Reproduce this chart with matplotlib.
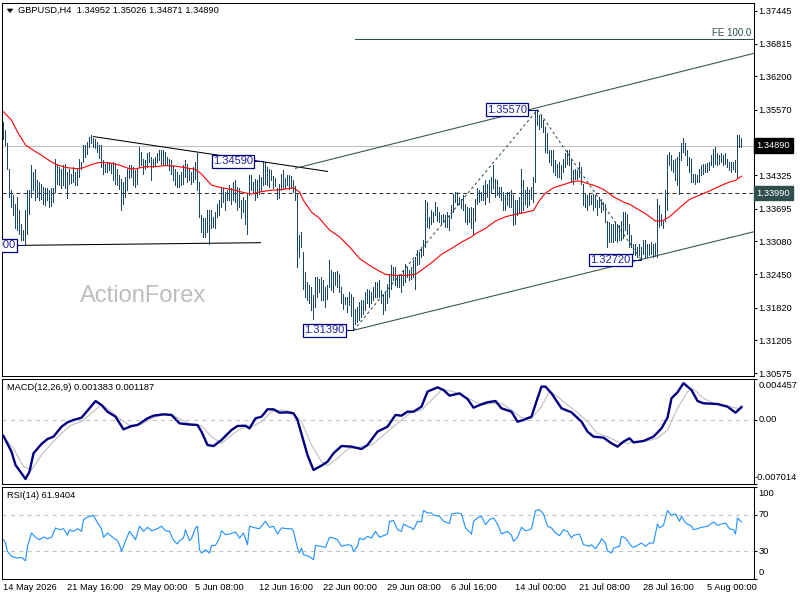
import matplotlib
matplotlib.use("Agg")
import matplotlib.pyplot as plt
import matplotlib.transforms as mtransforms
from matplotlib.patches import Polygon

plt.rcParams['font.family'] = ['Liberation Sans', 'DejaVu Sans']

# ---------------- data ----------------
symbol_header = "GBPUSD,H4  1.34952 1.35026 1.34871 1.34890"
macd_header = "MACD(12,26,9) 0.001383 0.001187"
rsi_header = "RSI(14) 61.9404"
watermark = "ActionForex"

bar_high = [
    1.3534, 1.3519, 1.3493, 1.3445, 1.3404, 1.3395, 1.3379, 1.3392, 1.3366, 1.3341,
    1.3329, 1.3366, 1.3404, 1.3404, 1.3452, 1.3439, 1.3445, 1.3423, 1.3420, 1.3417,
    1.3411, 1.3408, 1.3408, 1.3404, 1.3409, 1.3408, 1.3463, 1.3455, 1.3449, 1.3445,
    1.3452, 1.3455, 1.3439, 1.3445, 1.3435, 1.3449, 1.3439, 1.3444, 1.3463, 1.3458,
    1.3490, 1.3490, 1.3496, 1.3505, 1.3509, 1.3504, 1.3502, 1.3496, 1.3490, 1.3490,
    1.3461, 1.3455, 1.3458, 1.3457, 1.3455, 1.3458, 1.3456, 1.3445, 1.3433, 1.3426,
    1.3420, 1.3430, 1.3445, 1.3452, 1.3452, 1.3449, 1.3442, 1.3445, 1.3487, 1.3477,
    1.3464, 1.3461, 1.3474, 1.3477, 1.3468, 1.3464, 1.3468, 1.3474, 1.3481, 1.3480,
    1.3481, 1.3477, 1.3468, 1.3464, 1.3461, 1.3452, 1.3445, 1.3439, 1.3433, 1.3439,
    1.3452, 1.3461, 1.3455, 1.3445, 1.3439, 1.3449, 1.3458, 1.3474, 1.3420, 1.3357,
    1.3351, 1.3351, 1.3366, 1.3366, 1.3366, 1.3354, 1.3363, 1.3379, 1.3385, 1.3411,
    1.3408, 1.3401, 1.3404, 1.3414, 1.3408, 1.3420, 1.3423, 1.3411, 1.3408, 1.3385,
    1.3392, 1.3385, 1.3398, 1.3433, 1.3433, 1.3420, 1.3426, 1.3423, 1.3433, 1.3430,
    1.3459, 1.3458, 1.3449, 1.3445, 1.3442, 1.3431, 1.3428, 1.3408, 1.3417, 1.3435,
    1.3442, 1.3428, 1.3433, 1.3433, 1.3431, 1.3423, 1.3412, 1.3398, 1.3319, 1.3325,
    1.3287, 1.3250, 1.3231, 1.3224, 1.3221, 1.3205, 1.3240, 1.3240, 1.3237, 1.3240,
    1.3234, 1.3221, 1.3224, 1.3272, 1.3253, 1.3250, 1.3250, 1.3251, 1.3246, 1.3221,
    1.3208, 1.3202, 1.3202, 1.3212, 1.3208, 1.3202, 1.3180, 1.3183, 1.3193, 1.3196,
    1.3196, 1.3212, 1.3218, 1.3215, 1.3212, 1.3221, 1.3231, 1.3231, 1.3234, 1.3215,
    1.3208, 1.3212, 1.3227, 1.3246, 1.3262, 1.3259, 1.3259, 1.3243, 1.3243, 1.3246,
    1.3253, 1.3265, 1.3259, 1.3253, 1.3259, 1.3272, 1.3278, 1.3291, 1.3287, 1.3297,
    1.3310, 1.3385, 1.3382, 1.3354, 1.3366, 1.3363, 1.3382, 1.3373, 1.3363, 1.3357,
    1.3360, 1.3357, 1.3363, 1.3357, 1.3376, 1.3398, 1.3401, 1.3401, 1.3392, 1.3388,
    1.3395, 1.3379, 1.3373, 1.3370, 1.3373, 1.3370, 1.3388, 1.3408, 1.3404, 1.3401,
    1.3414, 1.3423, 1.3417, 1.3423, 1.3430, 1.3452, 1.3426, 1.3423, 1.3411, 1.3411,
    1.3401, 1.3395, 1.3401, 1.3401, 1.3404, 1.3395, 1.3385, 1.3385, 1.3392, 1.3444,
    1.3423, 1.3404, 1.3411, 1.3404, 1.3411, 1.3430, 1.3556, 1.3557, 1.3547, 1.3547,
    1.3537, 1.3524, 1.3512, 1.3480, 1.3480, 1.3480, 1.3461, 1.3455, 1.3458, 1.3452,
    1.3464, 1.3474, 1.3480, 1.3480, 1.3464, 1.3442, 1.3445, 1.3442, 1.3458, 1.3449,
    1.3417, 1.3398, 1.3395, 1.3398, 1.3395, 1.3398, 1.3395, 1.3385, 1.3392, 1.3388,
    1.3382, 1.3379, 1.3347, 1.3344, 1.3341, 1.3341, 1.3344, 1.3341, 1.3338, 1.3347,
    1.3363, 1.3363, 1.3360, 1.3341, 1.3319, 1.3303, 1.3303, 1.3297, 1.3303, 1.3297,
    1.3310, 1.3310, 1.3303, 1.3303, 1.3306, 1.3303, 1.3304, 1.3388, 1.3376, 1.3360,
    1.3347, 1.3404, 1.3471, 1.3477, 1.3471, 1.3461, 1.3464, 1.3468, 1.3477, 1.3493,
    1.3504, 1.3493, 1.3480, 1.3468, 1.3464, 1.3436, 1.3435, 1.3433, 1.3445, 1.3452,
    1.3455, 1.3455, 1.3456, 1.3458, 1.3471, 1.3483, 1.3487, 1.3474, 1.3471, 1.3474,
    1.3471, 1.3474, 1.3464, 1.3458, 1.3458, 1.3458, 1.3461, 1.3509, 1.3509, 1.3503,
]
bar_low = [
    1.3502, 1.3490, 1.3445, 1.3392, 1.3373, 1.3357, 1.3332, 1.3329, 1.3322, 1.3310,
    1.3310, 1.3300, 1.3322, 1.3360, 1.3392, 1.3404, 1.3385, 1.3392, 1.3385, 1.3388,
    1.3378, 1.3376, 1.3385, 1.3373, 1.3374, 1.3382, 1.3401, 1.3417, 1.3414, 1.3409,
    1.3414, 1.3408, 1.3390, 1.3417, 1.3418, 1.3420, 1.3414, 1.3414, 1.3430, 1.3445,
    1.3458, 1.3468, 1.3473, 1.3487, 1.3494, 1.3487, 1.3485, 1.3477, 1.3466, 1.3449,
    1.3435, 1.3439, 1.3439, 1.3442, 1.3437, 1.3423, 1.3417, 1.3414, 1.3406, 1.3366,
    1.3379, 1.3392, 1.3404, 1.3428, 1.3430, 1.3414, 1.3411, 1.3417, 1.3449, 1.3452,
    1.3436, 1.3445, 1.3449, 1.3458, 1.3423, 1.3449, 1.3452, 1.3458, 1.3461, 1.3455,
    1.3452, 1.3455, 1.3452, 1.3442, 1.3436, 1.3423, 1.3414, 1.3411, 1.3411, 1.3414,
    1.3417, 1.3430, 1.3420, 1.3423, 1.3417, 1.3420, 1.3426, 1.3404, 1.3354, 1.3325,
    1.3316, 1.3316, 1.3325, 1.3303, 1.3332, 1.3335, 1.3332, 1.3354, 1.3357, 1.3373,
    1.3382, 1.3366, 1.3385, 1.3385, 1.3379, 1.3385, 1.3382, 1.3366, 1.3373, 1.3351,
    1.3363, 1.3341, 1.3322, 1.3395, 1.3404, 1.3401, 1.3385, 1.3392, 1.3398, 1.3404,
    1.3414, 1.3417, 1.3414, 1.3411, 1.3423, 1.3409, 1.3412, 1.3388, 1.3390, 1.3404,
    1.3408, 1.3409, 1.3414, 1.3406, 1.3409, 1.3401, 1.3385, 1.3259, 1.3278, 1.3297,
    1.3218, 1.3202, 1.3196, 1.3190, 1.3177, 1.3161, 1.3183, 1.3202, 1.3212, 1.3196,
    1.3196, 1.3183, 1.3199, 1.3221, 1.3215, 1.3212, 1.3224, 1.3221, 1.3212, 1.3190,
    1.3180, 1.3188, 1.3174, 1.3186, 1.3167, 1.3139, 1.3151, 1.3155, 1.3158, 1.3164,
    1.3170, 1.3177, 1.3190, 1.3183, 1.3190, 1.3196, 1.3202, 1.3202, 1.3202, 1.3190,
    1.3170, 1.3177, 1.3190, 1.3202, 1.3218, 1.3234, 1.3224, 1.3221, 1.3221, 1.3212,
    1.3224, 1.3231, 1.3240, 1.3234, 1.3237, 1.3240, 1.3218, 1.3262, 1.3265, 1.3278,
    1.3281, 1.3297, 1.3335, 1.3332, 1.3341, 1.3344, 1.3357, 1.3347, 1.3344, 1.3341,
    1.3344, 1.3335, 1.3335, 1.3329, 1.3351, 1.3363, 1.3382, 1.3376, 1.3379, 1.3370,
    1.3366, 1.3344, 1.3341, 1.3344, 1.3332, 1.3319, 1.3347, 1.3379, 1.3382, 1.3385,
    1.3385, 1.3379, 1.3392, 1.3382, 1.3401, 1.3408, 1.3392, 1.3395, 1.3392, 1.3385,
    1.3366, 1.3366, 1.3376, 1.3373, 1.3373, 1.3338, 1.3341, 1.3357, 1.3363, 1.3363,
    1.3366, 1.3379, 1.3373, 1.3376, 1.3388, 1.3382, 1.3420, 1.3528, 1.3521, 1.3524,
    1.3515, 1.3477, 1.3474, 1.3458, 1.3452, 1.3439, 1.3433, 1.3430, 1.3430, 1.3426,
    1.3439, 1.3449, 1.3455, 1.3452, 1.3420, 1.3417, 1.3426, 1.3426, 1.3430, 1.3417,
    1.3376, 1.3373, 1.3366, 1.3376, 1.3379, 1.3366, 1.3373, 1.3357, 1.3373, 1.3363,
    1.3366, 1.3344, 1.3297, 1.3306, 1.3306, 1.3306, 1.3310, 1.3306, 1.3310, 1.3310,
    1.3313, 1.3329, 1.3322, 1.3297, 1.3297, 1.3284, 1.3281, 1.3278, 1.3281, 1.3272,
    1.3284, 1.3278, 1.3278, 1.3281, 1.3284, 1.3278, 1.3279, 1.3278, 1.3335, 1.3338,
    1.3332, 1.3347, 1.3366, 1.3452, 1.3442, 1.3439, 1.3423, 1.3414, 1.3398, 1.3461,
    1.3477, 1.3471, 1.3452, 1.3439, 1.3420, 1.3420, 1.3417, 1.3420, 1.3420, 1.3433,
    1.3436, 1.3439, 1.3439, 1.3442, 1.3452, 1.3449, 1.3455, 1.3452, 1.3455, 1.3458,
    1.3452, 1.3455, 1.3449, 1.3442, 1.3439, 1.3445, 1.3439, 1.3430, 1.3487, 1.3487,
]
bar_idx = list(range(len(bar_high)))

ma_idx = [0, 4, 7, 11, 15, 20, 24, 27, 32, 37, 40, 44, 48, 53, 58, 63, 66, 71, 76, 81,
          86, 91, 96, 99, 104, 109, 114, 119, 124, 128, 133, 140, 145, 148, 150, 154, 158, 163, 168, 173,
          178, 183, 188, 191, 196, 201, 206, 209, 214, 219, 224, 229, 234, 236, 241, 246, 251, 254, 258, 265,
          268, 271, 275, 280, 285, 288, 292, 295, 300, 305, 310, 313, 316, 321, 326, 329, 333, 338, 343, 348,
          353, 358, 363, 366, 369]
ma_val = [1.3553, 1.3537, 1.3515, 1.3490, 1.3480, 1.3468, 1.3458, 1.3452, 1.3447, 1.3445,
          1.3447, 1.3453, 1.3457, 1.3456, 1.3452, 1.3445, 1.3445, 1.3449, 1.3449, 1.3451,
          1.3450, 1.3447, 1.3444, 1.3435, 1.3414, 1.3409, 1.3406, 1.3401, 1.3397, 1.3401,
          1.3404, 1.3406, 1.3409, 1.3401, 1.3385, 1.3363, 1.3351, 1.3329, 1.3316, 1.3297,
          1.3275, 1.3262, 1.3251, 1.3245, 1.3243, 1.3243, 1.3245, 1.3253, 1.3267, 1.3283,
          1.3294, 1.3306, 1.3316, 1.3322, 1.3332, 1.3346, 1.3354, 1.3357, 1.3360, 1.3366,
          1.3385, 1.3399, 1.3409, 1.3415, 1.3421, 1.3422, 1.3417, 1.3414, 1.3406, 1.3392,
          1.3382, 1.3378, 1.3371, 1.3360, 1.3346, 1.3346, 1.3354, 1.3371, 1.3387, 1.3395,
          1.3403, 1.3412, 1.3420, 1.3423, 1.3431]

macd_idx = [0, 4, 6, 9, 11, 13, 15, 19, 22, 25, 29, 32, 35, 39, 43, 46, 49, 52, 56, 60,
            64, 67, 72, 75, 80, 84, 88, 92, 97, 99, 102, 105, 109, 114, 117, 121, 123, 126, 129, 132,
            135, 138, 142, 145, 147, 152, 155, 159, 162, 165, 169, 174, 179, 182, 187, 192, 196, 199, 202, 205,
            209, 212, 217, 220, 223, 228, 232, 235, 239, 242, 246, 249, 254, 257, 260, 264, 267, 269, 271, 274,
            279, 284, 289, 292, 295, 300, 304, 307, 310, 313, 315, 320, 325, 329, 332, 334, 337, 340, 344, 347,
            350, 357, 362, 366, 369]
macd_val = [-0.00180, -0.00352, -0.00498, -0.00590, -0.00652, -0.00571, -0.00370, -0.00268, -0.00213, -0.00187,
            -0.00078, -0.00030, -0.00004, 0.00021, 0.00124, 0.00204, 0.00160, 0.00087, 0.00032, -0.00107,
            -0.00070, -0.00059, 0.00014, 0.00043, 0.00058, 0.00051, -0.00041, -0.00052, -0.00059, -0.00132,
            -0.00279, -0.00290, -0.00224, -0.00114, -0.00070, -0.00067, -0.00096, 0.00014, 0.00032, 0.00113,
            0.00113, 0.00076, 0.00080, 0.00069, -0.00004, -0.00389, -0.00553, -0.00505, -0.00462, -0.00370,
            -0.00290, -0.00297, -0.00323, -0.00279, -0.00132, -0.00078, 0.00051, 0.00043, 0.00087, 0.00087,
            0.00142, 0.00307, 0.00354, 0.00325, 0.00263, 0.00288, 0.00226, 0.00131, 0.00168, 0.00190,
            0.00204, 0.00124, 0.00087, -0.00023, -0.00004, 0.00032, 0.00234, 0.00362, 0.00362, 0.00288,
            0.00124, 0.00080, -0.00023, -0.00132, -0.00187, -0.00198, -0.00261, -0.00297, -0.00242, -0.00205,
            -0.00250, -0.00235, -0.00187, -0.00096, 0.00021, 0.00234, 0.00299, 0.00400, 0.00325, 0.00204,
            0.00179, 0.00171, 0.00142, 0.00076, 0.00138]

sig_idx = [0, 5, 10, 14, 19, 24, 29, 34, 39, 44, 49, 54, 59, 64, 69, 74, 79, 84, 89, 94,
           99, 104, 109, 114, 119, 124, 129, 134, 139, 144, 149, 154, 159, 162, 167, 172, 179, 184, 189, 194,
           199, 204, 209, 214, 219, 224, 229, 234, 239, 244, 249, 254, 259, 264, 269, 273, 277, 282, 287, 292,
           297, 302, 307, 312, 317, 322, 327, 332, 337, 342, 345, 350, 355, 360, 365, 369]
sig_val = [-0.00187, -0.00315, -0.00516, -0.00553, -0.00389, -0.00261, -0.00151, -0.00059, -0.00023, 0.00069,
           0.00168, 0.00087, -0.00004, -0.00078, -0.00052, 0.00014, 0.00051, 0.00058, -0.00004, -0.00052,
           -0.00067, -0.00187, -0.00261, -0.00169, -0.00096, -0.00078, -0.00023, 0.00087, 0.00105, 0.00087,
           -0.00023, -0.00279, -0.00462, -0.00505, -0.00425, -0.00323, -0.00297, -0.00279, -0.00187, -0.00096,
           -0.00004, 0.00080, 0.00105, 0.00215, 0.00325, 0.00314, 0.00270, 0.00215, 0.00160, 0.00179,
           0.00179, 0.00105, 0.00021, 0.00014, 0.00142, 0.00314, 0.00252, 0.00160, 0.00080, -0.00023,
           -0.00151, -0.00187, -0.00242, -0.00261, -0.00242, -0.00235, -0.00205, -0.00114, 0.00124, 0.00307,
           0.00336, 0.00234, 0.00179, 0.00160, 0.00131, 0.00120]

rsi_idx = [0, 1, 2, 4, 7, 9, 11, 12, 14, 16, 18, 20, 22, 24, 26, 28, 30, 32, 33, 35,
           37, 39, 40, 42, 45, 47, 49, 50, 52, 54, 57, 58, 59, 61, 63, 64, 66, 68, 70, 72,
           74, 77, 79, 81, 83, 85, 87, 88, 90, 91, 93, 94, 96, 97, 98, 99, 101, 103, 104, 106,
           108, 109, 111, 113, 116, 118, 120, 122, 123, 126, 128, 131, 133, 135, 137, 139, 142, 144, 145, 147,
           148, 149, 150, 153, 155, 156, 159, 161, 163, 165, 167, 169, 172, 174, 175, 177, 178, 180, 182, 184,
           186, 188, 192, 193, 195, 197, 199, 200, 202, 204, 205, 207, 209, 210, 212, 214, 215, 218, 220, 223,
           224, 227, 229, 231, 234, 235, 237, 239, 241, 243, 245, 247, 249, 252, 254, 255, 257, 259, 261, 263,
           264, 266, 268, 270, 272, 274, 276, 278, 280, 282, 284, 285, 288, 290, 293, 294, 296, 298, 299, 301,
           302, 304, 305, 308, 309, 311, 314, 315, 318, 319, 321, 323, 325, 327, 328, 330, 332, 334, 336, 338,
           339, 341, 344, 345, 347, 349, 352, 355, 357, 359, 361, 363, 365, 366, 367, 369]
rsi_val = [42.7, 39.1, 30.0, 24.5, 22.7, 23.5, 19.8, 35.5, 50.0, 45.3, 42.7, 45.6, 43.8, 45.3, 55.5, 53.6, 54.7, 47.5, 53.6, 51.8,
           54.7, 51.8, 64.5, 67.1, 69.3, 60.9, 54.7, 45.3, 50.0, 46.4, 41.6, 37.3, 30.0, 41.6, 51.8, 48.9, 42.7, 57.3, 51.8, 56.2,
           52.5, 54.7, 57.3, 52.5, 51.8, 42.0, 38.0, 41.6, 44.5, 53.6, 41.6, 43.8, 55.5, 57.3, 31.8, 28.2, 31.8, 28.2, 36.5, 36.5,
           44.5, 52.5, 48.2, 48.9, 51.1, 44.5, 50.0, 37.3, 57.3, 55.5, 54.7, 62.7, 56.2, 57.3, 48.9, 55.5, 54.7, 54.7, 51.8, 33.6,
           28.2, 33.6, 26.4, 24.5, 20.9, 36.5, 35.5, 34.4, 45.3, 44.5, 42.7, 35.5, 37.3, 36.5, 30.0, 35.5, 44.5, 42.7, 46.4, 44.5,
           51.8, 45.3, 48.9, 62.7, 63.5, 53.6, 51.8, 59.8, 57.3, 55.5, 53.6, 62.7, 62.0, 74.4, 71.8, 71.8, 69.3, 68.2, 62.7, 60.2,
           70.7, 71.8, 70.7, 55.5, 48.9, 62.7, 66.4, 68.2, 59.1, 64.5, 66.4, 59.8, 48.9, 51.8, 47.5, 40.9, 45.3, 56.2, 52.5, 53.6,
           54.7, 74.4, 75.5, 70.7, 57.3, 55.5, 50.0, 47.1, 53.6, 51.8, 44.5, 47.5, 48.9, 37.3, 35.5, 37.3, 32.9, 39.1, 43.8, 39.1,
           30.7, 28.2, 33.6, 35.5, 46.4, 44.5, 35.5, 34.4, 38.0, 39.1, 35.5, 39.1, 39.1, 59.8, 55.5, 58.4, 74.4, 69.3, 70.7, 62.7,
           68.2, 60.9, 57.3, 53.6, 54.7, 56.2, 57.3, 62.0, 58.4, 59.8, 60.9, 54.7, 53.6, 48.9, 66.4, 62.0]

price_ticks = [1.37445, 1.36815, 1.36200, 1.35570, 1.34940, 1.34325, 1.33695, 1.33080, 1.32450, 1.31820, 1.31205, 1.30575]
price_tick_labels = ["1.37445", "1.36815", "1.36200", "1.35570", "", "1.34325", "1.33695", "1.33080",
                     "1.32450", "1.31820", "1.31205", "1.30575"]
last_price = 1.34890
level_price = 1.33990
macd_ticks = [0.004457, 0.0, -0.007014]
macd_tick_labels = ["0.004457", "0.00", "-0.007014"]
rsi_ticks = [100, 70, 30, 0]
rsi_levels = [70, 30]
date_idx = [0, 32, 64, 96, 128, 160, 192, 224, 256, 288, 320, 352]
date_labels = ["14 May 2026", "21 May 16:00", "29 May 00:00", "5 Jun 08:00", "12 Jun 16:00", "22 Jun 00:00",
               "29 Jun 08:00", "6 Jul 16:00", "14 Jul 00:00", "21 Jul 08:00", "28 Jul 16:00", "5 Aug 00:00"]

# drawn studies (bar index, price)
resist_x, resist_y = [45, 162], [1.3506, 1.3440]
support_x, support_y = [11, 128.5], [1.3300, 1.3305]
chan_low_x, chan_low_y = [175, 375.5], [1.3139, 1.3326]
chan_up_x, chan_up_y = [146, 375.5], [1.3446, 1.3664]
fe_x, fe_level, fe_text = [176, 375.5], 1.3690, "FE 100.0"
zig_x, zig_y = [175, 267, 319], [1.3139, 1.3557, 1.3272]
pivot_text = ["1.34590", "1.31390", "1.35570", "1.32720", "1.33000"]
pivot_price = [1.34590, 1.31390, 1.35570, 1.32720, 1.33000]
pivot_bar = [130, 175, 267, 319, 11]

# ---------------- layout ----------------
W, H = 800, 600
fig = plt.figure(figsize=(8, 6), dpi=100)
fig.patch.set_facecolor("white")


def box(x0, y0, x1, y1):
    return [x0 / W, 1 - y1 / H, (x1 - x0) / W, (y1 - y0) / H]


ax_p = fig.add_axes(box(2, 3, 754, 376))
ax_m = fig.add_axes(box(2, 379, 754, 483.5))
ax_r = fig.add_axes(box(2, 487, 754, 579))

BAR_C = "#1b4868"
NAVY = "#000080"
SLATE = "#2f4f4f"
FS = 6.7
lw1 = 0.75

for ax in (ax_p, ax_m, ax_r):
    ax.set_xlim(-0.75, 375.25)
    ax.set_xticks([])
    ax.set_facecolor("white")
    for s in ax.spines.values():
        s.set_color("black")
        s.set_linewidth(lw1)
    ax.yaxis.tick_right()
    ax.tick_params(axis="y", length=2.5, width=lw1, pad=0.8, labelsize=FS, colors="black")

# ---- price panel ----
ax_p.set_ylim(1.30524, 1.37591)
ax_p.set_yticks(price_ticks)
ax_p.set_yticklabels(price_tick_labels)

ax_p.text(70, 1.3204, watermark, fontsize=17, color="#bdbdbd", ha="center", va="center", zorder=0.5)

ax_p.axhline(last_price, color="#c0c0c0", lw=lw1, zorder=1)
ax_p.axhline(level_price, color="#333333", lw=lw1, ls=(0, (3.8, 2.9)), zorder=1)

ax_p.vlines(bar_idx, bar_low, bar_high, colors=BAR_C, lw=0.6, antialiased=False, zorder=2)
ax_p.plot(ma_idx, ma_val, color="#ff0000", lw=0.8, zorder=3)

ax_p.plot(resist_x, resist_y, color="black", lw=lw1, zorder=3)
ax_p.plot(support_x, support_y, color="black", lw=lw1, zorder=3)
ax_p.plot(chan_low_x, chan_low_y, color=SLATE, lw=lw1, zorder=3)
ax_p.plot(chan_up_x, chan_up_y, color=SLATE, lw=lw1, zorder=3)
ax_p.plot(fe_x, [fe_level, fe_level], color=SLATE, lw=lw1, zorder=3)
ax_p.annotate(fe_text, xy=(375, fe_level), xytext=(-1.5, 1.2), textcoords="offset points",
              ha="right", va="bottom", fontsize=7, color=SLATE)
ax_p.plot(zig_x, zig_y, color=SLATE, lw=lw1, ls=(0, (2.6, 2.6)), zorder=3)

label_centre = [114.75, 160.5, 251.75, 303.5, -4.15]
for txt, pr, b, c in zip(pivot_text, pivot_price, pivot_bar, label_centre):
    ax_p.plot([c, b], [pr, pr], color=NAVY, lw=lw1, zorder=4, clip_on=True)
    ax_p.text(c, pr, txt, fontsize=8, color="#2020a0", ha="center", va="center", zorder=5, clip_on=True,
              bbox=dict(boxstyle="square,pad=0.12", fc="white", ec=NAVY, lw=0.9))

blend_p = mtransforms.blended_transform_factory(ax_p.transAxes, ax_p.transData)
ax_p.text(1.0035, last_price, "1.34890", transform=blend_p, fontsize=FS, color="white", ha="left", va="center",
          bbox=dict(boxstyle="square,pad=0.3", fc="black", ec="black"), clip_on=False, zorder=10)
ax_p.text(1.0035, level_price, "1.33990", transform=blend_p, fontsize=FS, color="white", ha="left", va="center",
          bbox=dict(boxstyle="square,pad=0.3", fc=SLATE, ec=SLATE), clip_on=False, zorder=10)

# ---- MACD panel ----
ax_m.set_ylim(macd_ticks[2], macd_ticks[0])
ax_m.set_yticks(macd_ticks)
ax_m.set_yticklabels([])
ax_m.axhline(0, color="#c0c0c0", lw=lw1, ls=(0, (4, 4)))
ax_m.plot(sig_idx, sig_val, color="#c0c0c0", lw=0.8, zorder=2)
ax_m.plot(macd_idx, macd_val, color=NAVY, lw=1.7, zorder=3)
blend_m = mtransforms.blended_transform_factory(ax_m.transAxes, ax_m.transData)
offs_m = [(3.3, -4.8), (3.3, 0), (0.7, 4.2)]
for v, lab, (dx, dy) in zip(macd_ticks, macd_tick_labels, offs_m):
    ax_m.annotate(lab, xy=(1, v), xycoords=blend_m, xytext=(dx, dy), textcoords="offset points",
                  ha="left", va="center", fontsize=FS, color="black", annotation_clip=False)

# ---- RSI panel ----
ax_r.set_ylim(0, 100)
ax_r.set_yticks(rsi_ticks)
ax_r.set_yticklabels([])
for lv in rsi_levels:
    ax_r.axhline(lv, color="#c0c0c0", lw=lw1, ls=(0, (4, 4)))
ax_r.plot(rsi_idx, rsi_val, color="#1e90ff", lw=0.8)
blend_r = mtransforms.blended_transform_factory(ax_r.transAxes, ax_r.transData)
offs_r = [-4.5, 0, 0, 4.5]
for v, dy in zip(rsi_ticks, offs_r):
    ax_r.annotate(str(v), xy=(1, v), xycoords=blend_r, xytext=(3.3, dy), textcoords="offset points",
                  ha="left", va="center", fontsize=FS, color="black", annotation_clip=False)

# ---- dates ----
blend_d = mtransforms.blended_transform_factory(ax_r.transData, fig.transFigure)
for i, lab in zip(date_idx, date_labels):
    ax_r.text(i, 1 - 588 / H, lab, transform=blend_d, fontsize=FS, ha="left", va="center", clip_on=False)

# ---- headers ----
fig.patches.append(Polygon([(7.3 / W, 1 - 9 / H), (12.7 / W, 1 - 9 / H), (10 / W, 1 - 12.5 / H)],
                           closed=True, transform=fig.transFigure, fc="black", ec="black", lw=0.5))
fig.text(18 / W, 1 - 10.7 / H, symbol_header, fontsize=FS, ha="left", va="center")
fig.text(7.3 / W, 1 - 387.3 / H, macd_header, fontsize=FS, ha="left", va="center")
fig.text(7.3 / W, 1 - 495 / H, rsi_header, fontsize=FS, ha="left", va="center")

fig.savefig("out.png", dpi=100, facecolor="white")
